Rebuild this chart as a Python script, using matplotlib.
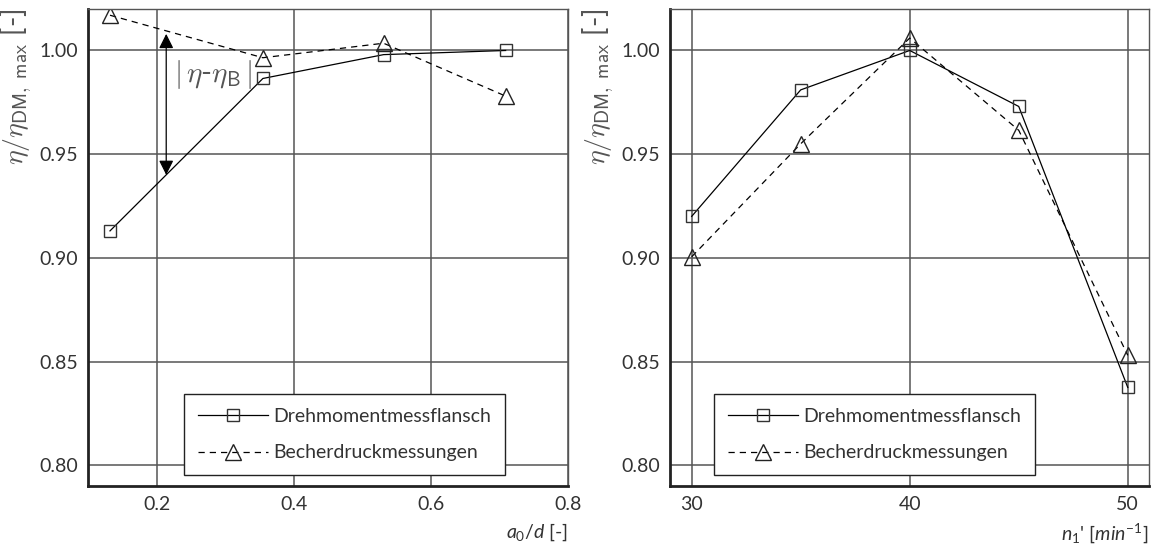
"""Wirkungsgrad: Drehmomentmessflansch vs. Becherdruckmessungen"""

import numpy as np
import matplotlib
matplotlib.use("Agg")
import matplotlib.pyplot as plt
from matplotlib.legend_handler import HandlerLine2D

plt.rcParams['font.family'] = ['Lato', 'DejaVu Sans']
plt.rcParams['mathtext.fontset'] = 'custom'
plt.rcParams['mathtext.rm'] = 'Lato'
plt.rcParams['mathtext.it'] = 'Lato:italic'
plt.rcParams['mathtext.sf'] = 'Lato'
plt.rcParams['mathtext.fallback'] = 'cm'

# Daten links: Düsenabstand
a0_d = [0.132, 0.355, 0.531, 0.709]
eta_dm_a = [0.913, 0.9865, 0.998, 1.000]
eta_b_a = [1.017, 0.9965, 1.0035, 0.978]

# Daten rechts: Drehzahl
n1 = [30, 35, 40, 45, 50]
eta_dm_n = [0.920, 0.981, 1.000, 0.973, 0.8375]
eta_b_n = [0.9005, 0.955, 1.006, 0.9615, 0.853]

# Pfeil |eta - eta_B|
pfeil_x = 0.214
pfeil_y = (1.008, 0.940)

txt = '#333333'


class HandlerLinks(HandlerLine2D):
    """Marker im linken Drittel der Legendenlinie"""
    def get_xdata(self, legend, xdescent, ydescent, width, height, fontsize):
        xdata = np.array([-xdescent, -xdescent + width], float)
        xmark = np.array([-xdescent + width * 0.38])
        return xdata, xmark


fig = plt.figure(figsize=(11.51, 5.46), dpi=100)
ax1 = fig.add_axes([0.0765, 0.110, 0.417, 0.8735])
ax2 = fig.add_axes([0.582, 0.110, 0.416, 0.8735])


def formatieren(ax, xlim, xticks, xlabel):
    ax.set_xlim(*xlim)
    ax.set_ylim(0.79, 1.02)
    ax.set_xticks(xticks)
    ax.set_yticks([0.80, 0.85, 0.90, 0.95, 1.00])
    ax.set_yticklabels(['0.80', '0.85', '0.90', '0.95', '1.00'])
    ax.grid(True, color='#555555', lw=1.1)
    ax.set_axisbelow(True)
    ax.tick_params(length=0, labelsize=14, labelcolor=txt, pad=7)
    for s in ['left', 'bottom']:
        ax.spines[s].set_linewidth(2)
        ax.spines[s].set_color('#222222')
    for s in ['top', 'right']:
        ax.spines[s].set_linewidth(1)
        ax.spines[s].set_color('#555555')
    ax.set_xlabel(xlabel, loc='right', fontsize=14, color=txt, labelpad=6)
    ax.set_ylabel(r'$\eta/\eta_{\mathsf{DM,\ max}}$ [-]', loc='top',
                  fontsize=20, color='#555555', labelpad=4,
                  math_fontfamily='cm')


def zeichnen(ax, x, y1, y2, anker):
    ax.plot(x, y1, '-', color='black', lw=0.9, marker='s', ms=9,
            mfc='none', mec='#333333', mew=1, label='Drehmomentmessflansch')
    ax.plot(x, y2, '--', color='black', lw=0.9, marker='^', ms=12,
            mfc='none', mec='#222222', mew=1, dashes=(5, 4),
            label='Becherdruckmessungen')
    leg = ax.legend(loc='lower left', bbox_to_anchor=anker, fontsize=14,
                    handlelength=3.6, handletextpad=0.3, borderpad=0.7,
                    labelspacing=1.0, fancybox=False, framealpha=1,
                    borderaxespad=0, edgecolor='#222222',
                    handler_map={matplotlib.lines.Line2D: HandlerLinks(numpoints=1)})
    leg.get_frame().set_linewidth(1)
    for t in leg.get_texts():
        t.set_color(txt)


zeichnen(ax1, a0_d, eta_dm_a, eta_b_a, (0.2, 0.023))
formatieren(ax1, (0.1, 0.8), [0.2, 0.4, 0.6, 0.8], r'$a_0/d$ [-]')

ax1.annotate('', xy=(pfeil_x, pfeil_y[1]), xytext=(pfeil_x, pfeil_y[0]),
             arrowprops=dict(arrowstyle='<|-|>', color='black', lw=0.9,
                             mutation_scale=22, shrinkA=0, shrinkB=0))
ax1.text(0.226, 0.9885, r'$|\,\eta$-$\eta_{\mathsf{B}}\,|$', fontsize=21,
         color='#555555', va='center', ha='left', math_fontfamily='cm')

zeichnen(ax2, n1, eta_dm_n, eta_b_n, (0.092, 0.023))
formatieren(ax2, (29.0, 50.96), [30, 40, 50], r"$n_1$' [$min^{-1}$]")

fig.savefig('out.png', dpi=100)
